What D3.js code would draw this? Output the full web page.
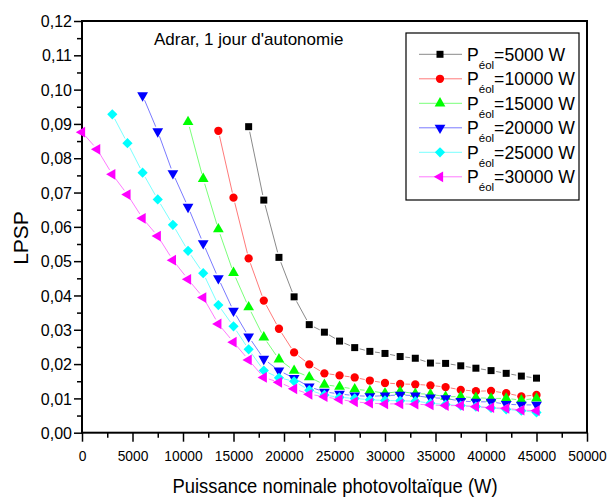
<!DOCTYPE html>
<html><head><meta charset="utf-8">
<script src="https://cdn.jsdelivr.net/npm/d3@7"></script>
<style>
body{margin:0;background:#fff;}
svg text{font-family:"Liberation Sans",Arial,sans-serif;fill:#000;}
</style>
</head><body>
<svg id="chart" width="608" height="500"></svg>
<script>
// ---------- DATA ----------
const pvPower = [0,1500,3000,4500,6000,7500,9000,10500,12000,13500,15000,16500,18000,19500,21000,
  22500,24000,25500,27000,28500,30000,31500,33000,34500,36000,37500,39000,40500,42000,43500,45000];
const seriesNames = ["5000","10000","15000","20000","25000","30000"];
// LPSP values (last value always at 45000 W)
const lpsp5000  = [0.0892,0.0678,0.0511,0.0396,0.0315,0.0293,0.0267,0.0248,0.0237,0.0231,0.0222,0.0217,0.0203,0.0202,0.0195,0.0188,0.0181,0.0173,0.0165,0.0159];
const lpsp10000 = [0.0880,0.0685,0.0508,0.0385,0.0303,0.0234,0.0199,0.0173,0.0167,0.0161,0.0152,0.0145,0.0142,0.0141,0.0138,0.0133,0.0125,0.0121,0.0122,0.0115,0.0106,0.0110];
const lpsp15000 = [0.0906,0.0740,0.0593,0.0466,0.0366,0.0278,0.0214,0.0181,0.0162,0.0140,0.0134,0.0127,0.0122,0.0115,0.0120,0.0114,0.0112,0.0105,0.0105,0.0102,0.0100,0.0100,0.0095,0.0100];
const lpsp20000 = [0.0983,0.0878,0.0756,0.0658,0.0552,0.0450,0.0355,0.0280,0.0215,0.0181,0.0159,0.0134,0.0119,0.0113,0.0108,0.0106,0.0108,0.0110,0.0108,0.0102,0.0100,0.0092,0.0090,0.0090,0.0083,0.0081,0.0081];
const lpsp25000 = [0.0928,0.0844,0.0758,0.0680,0.0606,0.0530,0.0465,0.0372,0.0310,0.0243,0.0181,0.0160,0.0150,0.0124,0.0110,0.0103,0.0100,0.0096,0.0094,0.0093,0.0092,0.0086,0.0082,0.0079,0.0076,0.0072,0.0068,0.0064,0.0059];
const lpsp30000 = [0.0876,0.0826,0.0753,0.0694,0.0625,0.0573,0.0503,0.0447,0.0394,0.0317,0.0264,0.0212,0.0161,0.0147,0.0128,0.0112,0.0105,0.0097,0.0090,0.0086,0.0084,0.0084,0.0083,0.0081,0.0079,0.0079,0.0076,0.0073,0.0071,0.0066,0.0064];
const allSeries = [lpsp5000,lpsp10000,lpsp15000,lpsp20000,lpsp25000,lpsp30000];
const xMajorTicks = [0,5000,10000,15000,20000,25000,30000,35000,40000,45000,50000];
const xMinorTicks = [2500,7500,12500,17500,22500,27500,32500,37500,42500,47500];
const yMajorTicks = [0,0.01,0.02,0.03,0.04,0.05,0.06,0.07,0.08,0.09,0.10,0.11,0.12];
const yMinorTicks = [0.005,0.015,0.025,0.035,0.045,0.055,0.065,0.075,0.085,0.095,0.105,0.115];

// ---------- STYLE ----------
const markerColors = ["#000000","#ff0000","#00ff00","#0000ff","#00ffff","#ff00ff"];
const lineColors   = ["#8a8a8a","#ff7a7a","#7aff7a","#7a7aff","#7affff","#ff7aff"];
const markerTypes  = ["square","circle","up","down","diamond","left"];

const svg = d3.select("#chart");
svg.append("rect").attr("width",608).attr("height",500).attr("fill","#fff");

const L = 82, R = 587, T = 21, B = 432.7;
const x = d3.scaleLinear().domain([0,50000]).range([L,R]);
const y = d3.scaleLinear().domain([0,0.12]).range([B,T]);

// axes
const fmtY = d => d3.format(".2f")(d).replace(".", ",");
const xAxisMaj = svg.append("g").attr("transform",`translate(0,${B})`)
  .call(d3.axisBottom(x).tickValues(xMajorTicks).tickSize(9).tickFormat(d3.format("d")));
xAxisMaj.select(".domain").remove();
xAxisMaj.selectAll("line").attr("stroke","#000").attr("stroke-width",1.5);
xAxisMaj.selectAll("text").attr("y",28.3).attr("dy",0)
  .style("font-size","15.5px").attr("transform","scale(0.89,1)")
  .style("font-family","'Liberation Sans',Arial,sans-serif");
const xAxisMin = svg.append("g").attr("transform",`translate(0,${B})`)
  .call(d3.axisBottom(x).tickValues(xMinorTicks).tickSize(5).tickFormat(""));
xAxisMin.select(".domain").remove();
xAxisMin.selectAll("line").attr("stroke","#000").attr("stroke-width",1.5);

const yAxisMaj = svg.append("g").attr("transform",`translate(${L},0)`)
  .call(d3.axisLeft(y).tickValues(yMajorTicks).tickSize(8).tickFormat(fmtY));
yAxisMaj.select(".domain").remove();
yAxisMaj.selectAll("line").attr("stroke","#000").attr("stroke-width",1.5);
yAxisMaj.selectAll("text").attr("x",-10).attr("dy","0.35em")
  .style("font-size","16px").style("font-family","'Liberation Sans',Arial,sans-serif");
const yAxisMin = svg.append("g").attr("transform",`translate(${L},0)`)
  .call(d3.axisLeft(y).tickValues(yMinorTicks).tickSize(5).tickFormat(""));
yAxisMin.select(".domain").remove();
yAxisMin.selectAll("line").attr("stroke","#000").attr("stroke-width",1.5);

// frame
svg.append("rect").attr("x",L).attr("y",T).attr("width",R-L).attr("height",B-T)
  .attr("fill","none").attr("stroke","#000").attr("stroke-width",2);

// markers
function markerPath(type){
  switch(type){
    case "square": return {d:d3.symbol(d3.symbolSquare,49)(), rot:0};
    case "circle": return {d:d3.symbol(d3.symbolCircle,54)(), rot:0};
    case "up": return {d:d3.symbol(d3.symbolTriangle,50)(), rot:0};
    case "down": return {d:d3.symbol(d3.symbolTriangle,50)(), rot:180};
    case "diamond": return {d:d3.symbol(d3.symbolSquare,52)(), rot:45};
    case "left": return {d:d3.symbol(d3.symbolTriangle,50)(), rot:-90};
  }
}

const gap = 5.2;
allSeries.forEach((vals,i) => {
  const xs = pvPower.slice(pvPower.length - vals.length);
  const pts = vals.map((v,k)=>[x(xs[k]), y(v)]);
  const g = svg.append("g");
  const segs = [];
  for(let k=0;k<pts.length-1;k++){
    const [x0,y0]=pts[k],[x1,y1]=pts[k+1];
    const dx=x1-x0, dy=y1-y0, d=Math.hypot(dx,dy);
    if(d>2*gap) segs.push([x0+dx/d*gap, y0+dy/d*gap, x1-dx/d*gap, y1-dy/d*gap]);
  }
  g.selectAll("line").data(segs).join("line")
    .attr("x1",s=>s[0]).attr("y1",s=>s[1]).attr("x2",s=>s[2]).attr("y2",s=>s[3])
    .attr("stroke",lineColors[i]).attr("stroke-width",1);
  const m = markerPath(markerTypes[i]);
  g.selectAll("path").data(pts).join("path")
    .attr("d",m.d).attr("transform",p=>`translate(${p[0]},${p[1]}) rotate(${m.rot})`)
    .attr("fill",markerColors[i]);
});

// title
svg.append("text").attr("x",154).attr("y",45).style("font-size","17px").text("Adrar, 1 jour d'autonomie");

// legend
svg.append("rect").attr("x",406).attr("y",33).attr("width",173).attr("height",167)
  .attr("fill","#fff").attr("stroke","#000").attr("stroke-width",1.2);
seriesNames.forEach((name,i)=>{
  const cy = 54.3 + i*24.5;
  svg.append("line").attr("x1",419).attr("x2",462).attr("y1",cy).attr("y2",cy)
    .attr("stroke",lineColors[i]).attr("stroke-width",1);
  const m = markerPath(markerTypes[i]);
  svg.append("path").attr("d",m.d).attr("transform",`translate(440,${cy}) rotate(${m.rot})`)
    .attr("fill",markerColors[i]);
  const t = svg.append("text").attr("x",467).attr("y",cy+6.3).style("font-size","17.6px");
  t.append("tspan").text("P");
  t.append("tspan").attr("dy",8).style("font-size","11.5px").text("éol");
  t.append("tspan").attr("dy",-8).text("=" + name + " W");
});

// axis titles
svg.append("text").attr("transform",`translate(335,493) scale(0.92,1)`).attr("text-anchor","middle")
  .style("font-size","20px").text("Puissance nominale photovoltaïque (W)");
svg.append("text").attr("transform",`translate(27.5,238) rotate(-90)`).attr("text-anchor","middle")
  .style("font-size","21px").text("LPSP");
</script>
</body></html>
